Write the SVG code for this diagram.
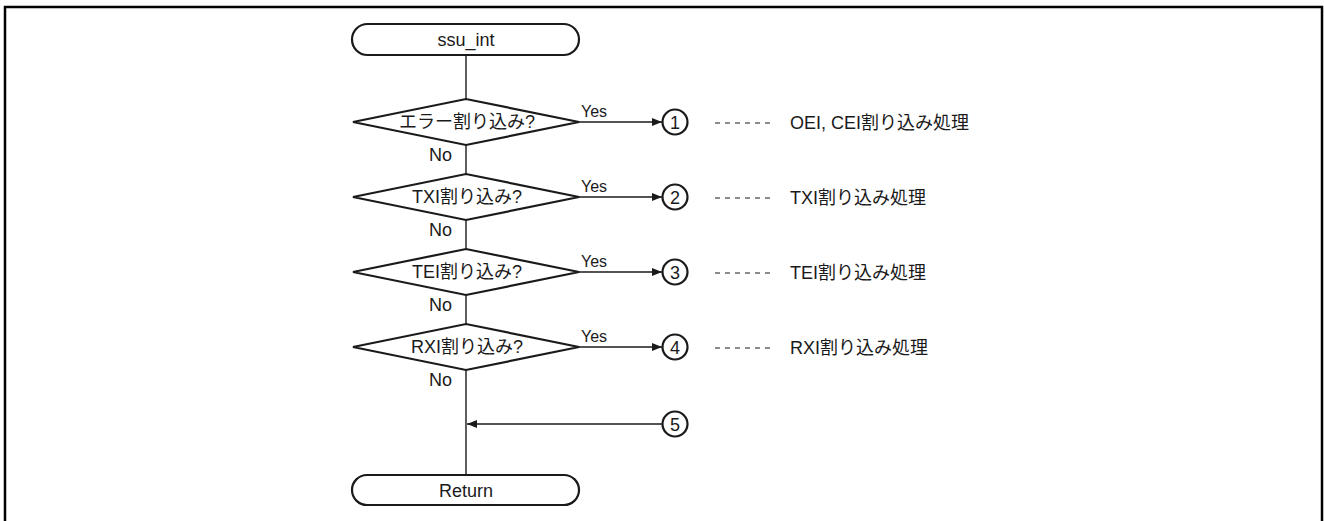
<svg xmlns="http://www.w3.org/2000/svg" width="1324" height="521" viewBox="0 0 1324 521">
  <style>
    text { font-family: "Liberation Sans", Arial, "Noto Sans CJK JP", sans-serif; font-size: 18px; fill: #1a1a1a; }
    .mid { text-anchor: middle; }
    .end { text-anchor: end; }
    .yes { font-size: 16px; }
    .shape { fill: #fff; stroke: #1a1a1a; stroke-width: 2.2; }
    .conn { fill: none; stroke: #1a1a1a; stroke-width: 1.4; }
    .dash { fill: none; stroke: #1a1a1a; stroke-width: 1.2; stroke-dasharray: 5 5; }
  </style>
  <defs>
    <marker id="arrow" viewBox="0 0 10 8" refX="10" refY="4" markerWidth="10" markerHeight="8" markerUnits="userSpaceOnUse" orient="auto">
      <path d="M0,0 L10,4 L0,8 z" fill="#1a1a1a"/>
    </marker>
  </defs>

  <rect x="5" y="7" width="1317" height="530" fill="none" stroke="#000" stroke-width="2.5"/>

  <g id="connectors">
    <line class="conn" x1="466" y1="55" x2="466" y2="99"/>
    <line class="conn" x1="466" y1="145" x2="466" y2="174"/>
    <line class="conn" x1="466" y1="220" x2="466" y2="249"/>
    <line class="conn" x1="466" y1="295" x2="466" y2="324"/>
    <line class="conn" x1="466" y1="370" x2="466" y2="475"/>
    <line class="conn" x1="579" y1="122" x2="662" y2="122" marker-end="url(#arrow)"/>
    <line class="conn" x1="579" y1="197" x2="662" y2="197" marker-end="url(#arrow)"/>
    <line class="conn" x1="579" y1="272" x2="662" y2="272" marker-end="url(#arrow)"/>
    <line class="conn" x1="579" y1="347" x2="662" y2="347" marker-end="url(#arrow)"/>
    <line class="conn" x1="662" y1="424" x2="467" y2="424" marker-end="url(#arrow)"/>
    <text class="yes" x="581" y="117">Yes</text>
    <text class="yes" x="581" y="192">Yes</text>
    <text class="yes" x="581" y="267">Yes</text>
    <text class="yes" x="581" y="342">Yes</text>
    <text class="end" x="452" y="161">No</text>
    <text class="end" x="452" y="236">No</text>
    <text class="end" x="452" y="311">No</text>
    <text class="end" x="452" y="386">No</text>
  </g>

  <g id="start">
    <rect class="shape" x="352" y="24" width="227" height="31" rx="15.5"/>
    <text class="mid" x="466" y="46">ssu_int</text>
  </g>

  <g id="decision-error">
    <polygon class="shape" points="353,122 466,99 579,122 466,145"/>
    <text class="mid" x="467" y="128">エラー割り込み?</text>
  </g>
  <g id="decision-txi">
    <polygon class="shape" points="353,197 466,174 579,197 466,220"/>
    <text class="mid" x="467" y="203">TXI割り込み?</text>
  </g>
  <g id="decision-tei">
    <polygon class="shape" points="353,272 466,249 579,272 466,295"/>
    <text class="mid" x="467" y="278">TEI割り込み?</text>
  </g>
  <g id="decision-rxi">
    <polygon class="shape" points="353,347 466,324 579,347 466,370"/>
    <text class="mid" x="467" y="353">RXI割り込み?</text>
  </g>

  <g id="connector-1">
    <circle class="shape" cx="675" cy="122" r="12.5"/>
    <text class="mid" x="675" y="128.5">1</text>
    <line class="dash" x1="715" y1="123" x2="772" y2="123"/>
    <text x="790" y="129">OEI, CEI割り込み処理</text>
  </g>
  <g id="connector-2">
    <circle class="shape" cx="675" cy="197" r="12.5"/>
    <text class="mid" x="675" y="203.5">2</text>
    <line class="dash" x1="715" y1="198" x2="772" y2="198"/>
    <text x="790" y="204">TXI割り込み処理</text>
  </g>
  <g id="connector-3">
    <circle class="shape" cx="675" cy="272" r="12.5"/>
    <text class="mid" x="675" y="278.5">3</text>
    <line class="dash" x1="715" y1="273" x2="772" y2="273"/>
    <text x="790" y="279">TEI割り込み処理</text>
  </g>
  <g id="connector-4">
    <circle class="shape" cx="675" cy="347" r="12.5"/>
    <text class="mid" x="675" y="353.5">4</text>
    <line class="dash" x1="715" y1="348" x2="772" y2="348"/>
    <text x="790" y="354">RXI割り込み処理</text>
  </g>
  <g id="connector-5">
    <circle class="shape" cx="675" cy="424" r="12.5"/>
    <text class="mid" x="675" y="430.5">5</text>
  </g>

  <g id="end">
    <rect class="shape" x="352" y="475" width="227" height="30" rx="15"/>
    <text class="mid" x="466" y="497">Return</text>
  </g>
</svg>
